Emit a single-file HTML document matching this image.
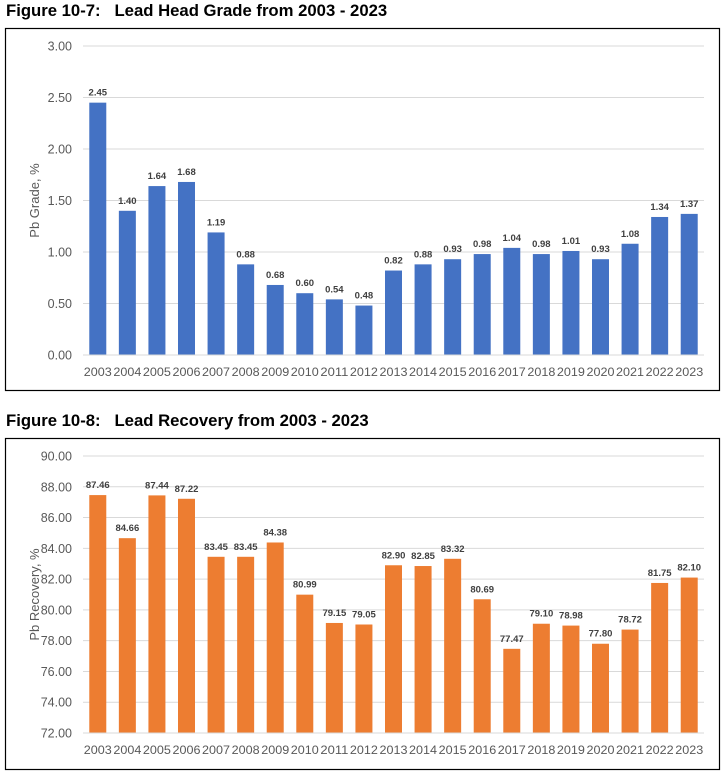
<!DOCTYPE html>
<html><head><meta charset="utf-8"><style>
body{margin:0;background:#fff;width:726px;height:781px;overflow:hidden;font-family:"Liberation Sans",sans-serif}
.t{position:absolute;left:6px;font-weight:bold;font-size:16.7px;color:#000}
svg{position:absolute;left:0;top:0}
</style></head><body>
<div class="t" style="top:1px">Figure 10-7:&nbsp;&nbsp;&nbsp;Lead Head Grade from 2003 - 2023</div>
<div class="t" style="top:411px">Figure 10-8:&nbsp;&nbsp;&nbsp;Lead Recovery from 2003 - 2023</div>
<svg id="s" width="726" height="781"></svg>
<script>
const years=["2003","2004","2005","2006","2007","2008","2009","2010","2011","2012","2013","2014","2015","2016","2017","2018","2019","2020","2021","2022","2023"];
const grade=[2.45,1.40,1.64,1.68,1.19,0.88,0.68,0.60,0.54,0.48,0.82,0.88,0.93,0.98,1.04,0.98,1.01,0.93,1.08,1.34,1.37];
const recovery=[87.46,84.66,87.44,87.22,83.45,83.45,84.38,80.99,79.15,79.05,82.90,82.85,83.32,80.69,77.47,79.10,78.98,77.80,78.72,81.75,82.10];
const gradeTicks=[0,0.5,1,1.5,2,2.5,3];
const recTicks=[72,74,76,78,80,82,84,86,88,90];
const S=document.getElementById('s');const NS="http://www.w3.org/2000/svg";
function mk(t,a,txt){const e=document.createElementNS(NS,t);for(const k in a)e.setAttribute(k,a[k]);if(txt!==undefined)e.textContent=txt;S.appendChild(e);return e;}
function chart(o){
 const box=mk('rect',{x:5.5,y:o.by,width:714,height:o.bh,fill:'none',stroke:'#000','stroke-width':1.2});
 
 
 const x0=83,x1=704,step=(x1-x0)/o.cats.length;
 const y=v=>o.yb-(v-o.min)/(o.max-o.min)*(o.yb-o.yt);
 const xc=i=>x0+step*(i+0.5);
 o.ticks.forEach(t=>{
  const g=mk('line',{x1:x0,x2:x1,y1:y(t),y2:y(t),stroke:'#d9d9d9','stroke-width':1});
  
  
  const l=mk('text',{x:72,y:y(t)+4.5,'text-anchor':'end','font-size':12.5,fill:'#595959'},t.toFixed(2));
  
  
 });
 o.vals.forEach((v,i)=>{
  const b=mk('rect',{x:xc(i)-8.5,y:y(v),width:17,height:o.yb-y(v),fill:o.color});
  
  
  const l=mk('text',{x:xc(i),y:y(v)-7,'text-anchor':'middle','font-size':9.5,'font-weight':'bold',fill:'#404040'},v.toFixed(2));
  
  
  const c=mk('text',{x:xc(i),y:o.yb+21,'text-anchor':'middle','font-size':12,fill:'#595959','textLength':28,'lengthAdjust':'spacingAndGlyphs'},o.cats[i]);
  
  
 });
 const ax=mk('line',{x1:x0,x2:x1,y1:o.yb,y2:o.yb,stroke:'#d9d9d9','stroke-width':1});
 
 
 const cy=(o.yt+o.yb)/2;
 const tt=mk('text',{x:39,y:cy,'text-anchor':'middle','font-size':13,fill:'#595959',transform:`rotate(-90 39 ${cy})`},o.title);
 
 
}
chart({name:'grade-chart',by:28.5,bh:362,yt:46,yb:355,min:0,max:3,ticks:gradeTicks,vals:grade,cats:years,color:'#4472c4',title:'Pb Grade, %'});
chart({name:'recovery-chart',by:438.5,bh:331,yt:456,yb:733,min:72,max:90,ticks:recTicks,vals:recovery,cats:years,color:'#ed7d31',title:'Pb Recovery, %'});
</script>
</body></html>
